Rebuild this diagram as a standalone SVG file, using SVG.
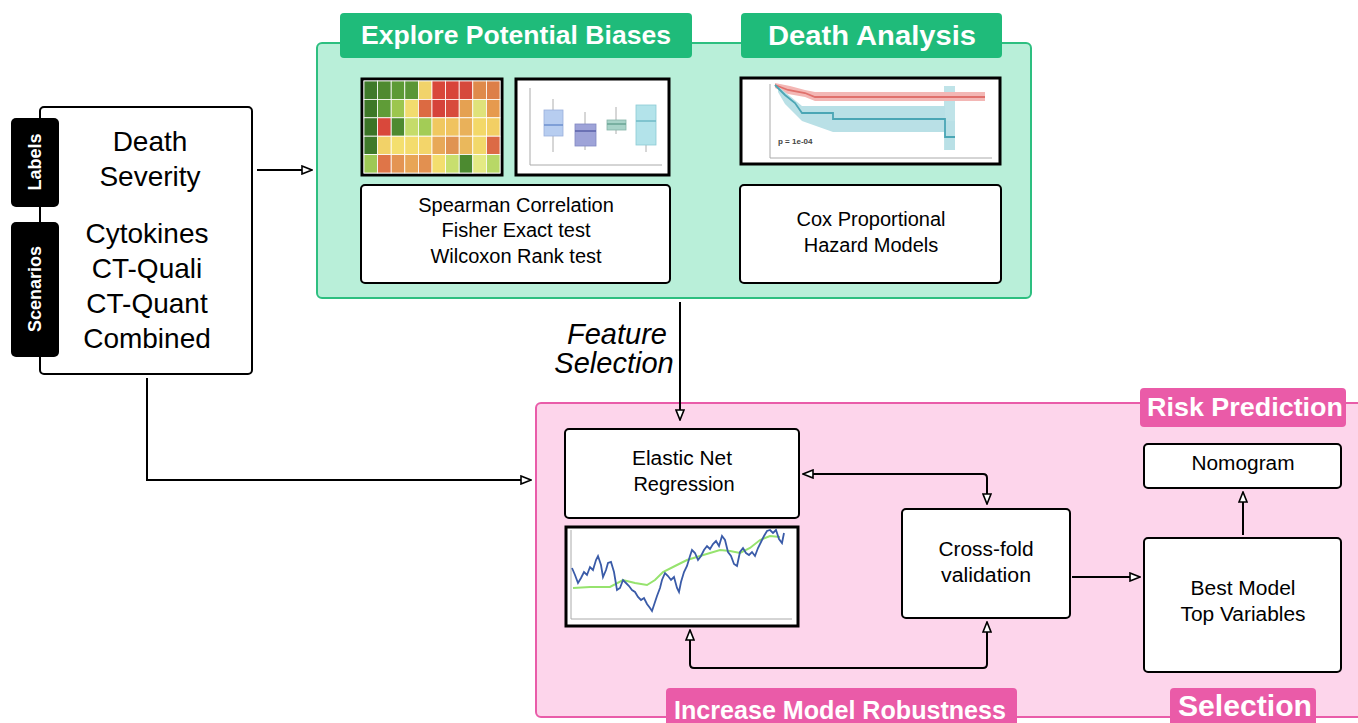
<svg xmlns="http://www.w3.org/2000/svg" width="1358" height="723" viewBox="0 0 1358 723">
<defs>
<style>
.node{fill:#fff;stroke:#000;stroke-width:2}
.txt{font-family:"Liberation Sans",Arial,sans-serif;fill:#000;text-anchor:middle}
.hdr{font-family:"Liberation Sans Narrow","Liberation Sans",Arial,sans-serif;font-weight:bold;fill:#fff;text-anchor:middle}
.tab{font-family:"Liberation Sans",Arial,sans-serif;font-weight:bold;fill:#fff;text-anchor:middle;font-size:18px}
.con{fill:none;stroke:#000;stroke-width:2}
.img{fill:#fff;stroke:#000;stroke-width:3}
.ax{stroke:#aaa;stroke-width:1;fill:none}
</style>
<marker id="ah" viewBox="0 0 12 10" refX="11" refY="5" markerWidth="12" markerHeight="10" markerUnits="userSpaceOnUse" orient="auto-start-reverse">
<path d="M1,1 L11,5 L1,9 Z" fill="#fff" stroke="#000" stroke-width="1.6"/>
</marker>
</defs>
<rect width="1358" height="723" fill="#fff"/>

<!-- Green container -->
<g id="explore-container">
<rect x="317" y="43" width="714" height="255" rx="5" fill="#b9efd9" stroke="#2dbf80" stroke-width="2"/>
<rect x="340" y="13" width="352" height="45" rx="4" fill="#1fbb7a"/>
<text class="hdr" x="516" y="44" font-size="26" textLength="310" lengthAdjust="spacingAndGlyphs">Explore Potential Biases</text>
<rect x="741" y="13" width="261" height="45" rx="4" fill="#1fbb7a"/>
<text class="hdr" x="872" y="45" font-size="28" textLength="208" lengthAdjust="spacingAndGlyphs">Death Analysis</text>
</g>

<!-- Pink container -->
<g id="risk-container">
<rect x="536" y="403" width="830" height="314" rx="5" fill="#fdd5eb" stroke="#e95ca9" stroke-width="2"/>
<rect x="1140" y="388" width="206" height="39" rx="4" fill="#ea5ba8"/>
<text class="hdr" x="1245" y="416" font-size="26" textLength="196" lengthAdjust="spacingAndGlyphs">Risk Prediction</text>
<rect x="666" y="688" width="351" height="40" rx="4" fill="#ea5ba8"/>
<text class="hdr" x="840" y="719" font-size="25" textLength="332" lengthAdjust="spacingAndGlyphs">Increase Model Robustness</text>
<rect x="1170" y="688" width="146" height="40" rx="4" fill="#ea5ba8"/>
<text class="hdr" x="1245" y="716" font-size="30" textLength="134" lengthAdjust="spacingAndGlyphs">Selection</text>
</g>

<!-- Left input node -->
<g id="inputs">
<rect x="40" y="107" width="212" height="267" rx="4" class="node"/>
<rect x="11" y="118" width="48" height="89" rx="5" fill="#000"/>
<text class="tab" transform="translate(41,162) rotate(-90)">Labels</text>
<rect x="11" y="222" width="48" height="135" rx="5" fill="#000"/>
<text class="tab" transform="translate(41,289) rotate(-90)">Scenarios</text>
<g class="txt" font-size="28">
<text x="150" y="151">Death</text>
<text x="150" y="186">Severity</text>
<text x="147" y="243">Cytokines</text>
<text x="147" y="278">CT-Quali</text>
<text x="147" y="313">CT-Quant</text>
<text x="147" y="348">Combined</text>
</g>
</g>

<!-- Heatmap image -->
<g id="heatmap">
<rect x="362" y="79" width="140" height="96" fill="#fff" stroke="#000" stroke-width="3"/>
<g stroke="#fff" stroke-width="0.8">
<rect x="364" y="81" width="13.6" height="18.4" fill="#3f7a2a"/><rect x="377.6" y="81" width="13.6" height="18.4" fill="#4f8a30"/><rect x="391.2" y="81" width="13.6" height="18.4" fill="#5c9a35"/><rect x="404.8" y="81" width="13.6" height="18.4" fill="#5a9636"/><rect x="418.4" y="81" width="13.6" height="18.4" fill="#f1d36a"/><rect x="432" y="81" width="13.6" height="18.4" fill="#d9473a"/><rect x="445.6" y="81" width="13.6" height="18.4" fill="#d8443a"/><rect x="459.2" y="81" width="13.6" height="18.4" fill="#d6493c"/><rect x="472.8" y="81" width="13.6" height="18.4" fill="#df8a4b"/><rect x="486.4" y="81" width="13.6" height="18.4" fill="#dd7f48"/>
<rect x="364" y="99.4" width="13.6" height="18.4" fill="#3e7828"/><rect x="377.6" y="99.4" width="13.6" height="18.4" fill="#5f9c37"/><rect x="391.2" y="99.4" width="13.6" height="18.4" fill="#9cc64e"/><rect x="404.8" y="99.4" width="13.6" height="18.4" fill="#f2dc6e"/><rect x="418.4" y="99.4" width="13.6" height="18.4" fill="#dc6a42"/><rect x="432" y="99.4" width="13.6" height="18.4" fill="#d6433a"/><rect x="445.6" y="99.4" width="13.6" height="18.4" fill="#d84b3c"/><rect x="459.2" y="99.4" width="13.6" height="18.4" fill="#e5a152"/><rect x="472.8" y="99.4" width="13.6" height="18.4" fill="#dfe27a"/><rect x="486.4" y="99.4" width="13.6" height="18.4" fill="#e69a4e"/>
<rect x="364" y="117.8" width="13.6" height="18.4" fill="#3b7427"/><rect x="377.6" y="117.8" width="13.6" height="18.4" fill="#d9483b"/><rect x="391.2" y="117.8" width="13.6" height="18.4" fill="#4e8a30"/><rect x="404.8" y="117.8" width="13.6" height="18.4" fill="#c5dc6a"/><rect x="418.4" y="117.8" width="13.6" height="18.4" fill="#a3cc56"/><rect x="432" y="117.8" width="13.6" height="18.4" fill="#f0c860"/><rect x="445.6" y="117.8" width="13.6" height="18.4" fill="#f0c35f"/><rect x="459.2" y="117.8" width="13.6" height="18.4" fill="#e9b15a"/><rect x="472.8" y="117.8" width="13.6" height="18.4" fill="#f3d868"/><rect x="486.4" y="117.8" width="13.6" height="18.4" fill="#f2cf64"/>
<rect x="364" y="136.2" width="13.6" height="18.4" fill="#3f7a2a"/><rect x="377.6" y="136.2" width="13.6" height="18.4" fill="#f2d268"/><rect x="391.2" y="136.2" width="13.6" height="18.4" fill="#f4df6e"/><rect x="404.8" y="136.2" width="13.6" height="18.4" fill="#f4dc6c"/><rect x="418.4" y="136.2" width="13.6" height="18.4" fill="#f3d56a"/><rect x="432" y="136.2" width="13.6" height="18.4" fill="#e8a858"/><rect x="445.6" y="136.2" width="13.6" height="18.4" fill="#e09352"/><rect x="459.2" y="136.2" width="13.6" height="18.4" fill="#eab85c"/><rect x="472.8" y="136.2" width="13.6" height="18.4" fill="#f2d86a"/><rect x="486.4" y="136.2" width="13.6" height="18.4" fill="#dc6a45"/>
<rect x="364" y="154.6" width="13.6" height="18.4" fill="#9ec955"/><rect x="377.6" y="154.6" width="13.6" height="18.4" fill="#df7548"/><rect x="391.2" y="154.6" width="13.6" height="18.4" fill="#e49452"/><rect x="404.8" y="154.6" width="13.6" height="18.4" fill="#e8a556"/><rect x="418.4" y="154.6" width="13.6" height="18.4" fill="#e29050"/><rect x="432" y="154.6" width="13.6" height="18.4" fill="#f3de6e"/><rect x="445.6" y="154.6" width="13.6" height="18.4" fill="#c8df6e"/><rect x="459.2" y="154.6" width="13.6" height="18.4" fill="#4c8a30"/><rect x="472.8" y="154.6" width="13.6" height="18.4" fill="#e4ea84"/><rect x="486.4" y="154.6" width="13.6" height="18.4" fill="#b8d866"/>
</g>
</g>

<!-- Boxplot image -->
<g id="boxplot">
<rect x="516" y="79" width="153" height="96" class="img"/>
<path class="ax" d="M530,88 V165 H662"/>
<g stroke="#999" stroke-width="0.8">
<line x1="553" y1="99" x2="553" y2="110"/><line x1="553" y1="136" x2="553" y2="152"/>
<line x1="585" y1="112" x2="585" y2="124"/><line x1="585" y1="146" x2="585" y2="150"/>
<line x1="616" y1="107" x2="616" y2="120"/><line x1="616" y1="130" x2="616" y2="134"/>
<line x1="646" y1="107" x2="646" y2="105"/><line x1="646" y1="145" x2="646" y2="152"/>
</g>
<rect x="544" y="110" width="19" height="26" fill="#b7cdf0" stroke="#9ab0dc" stroke-width="0.8"/>
<line x1="544" y1="125" x2="563" y2="125" stroke="#6c8fcf" stroke-width="1.5"/>
<rect x="575" y="124" width="21" height="22" fill="#9ea3d8" stroke="#8087c2" stroke-width="0.8"/>
<line x1="575" y1="131" x2="596" y2="131" stroke="#5a60a8" stroke-width="1.5"/>
<rect x="607" y="120" width="19" height="10" fill="#a8d3c8" stroke="#86b5a8" stroke-width="0.8"/>
<line x1="607" y1="124" x2="626" y2="124" stroke="#6aa595" stroke-width="1.5"/>
<rect x="636" y="105" width="20" height="40" fill="#b3e3ea" stroke="#8ccad4" stroke-width="0.8"/>
<line x1="636" y1="121" x2="656" y2="121" stroke="#6fbac6" stroke-width="1.5"/>
</g>

<!-- KM plot image -->
<g id="km-plot">
<rect x="741" y="78" width="259" height="86" class="img"/>
<path class="ax" d="M770,84 V158 H992"/>
<rect x="944" y="86" width="11" height="64" fill="#bfe3e8"/>
<path d="M775,83 L790,86 L805,90 L815,92 L985,92 L985,101 L815,101 L805,97 L788,94 L775,88 Z" fill="#f3b7b5"/>
<path d="M778,86 L785,92 L802,106 L833,106 L945,106 L945,121 L955,121 L955,150 L945,150 L945,132 L833,132 L802,121 L785,104 L778,92 Z" fill="#b9e0e6"/>
<path d="M775,85 L788,90 L805,93 L815,97 L985,97" fill="none" stroke="#e0706c" stroke-width="1.8"/>
<path d="M775,85 L782,92 L785,95 L795,103 L802,113 L833,113 L833,119 L945,119 L945,137 L955,137" fill="none" stroke="#4ba6b5" stroke-width="1.8"/>
<text x="778" y="144" font-family="Liberation Sans,Arial,sans-serif" font-size="8" font-weight="bold" fill="#444">p = 1e-04</text>
</g>

<!-- Spearman node -->
<g id="stats-tests">
<rect x="361" y="185" width="309" height="98" rx="4" class="node"/>
<g class="txt" font-size="20">
<text x="516" y="212">Spearman Correlation</text>
<text x="516" y="237">Fisher Exact test</text>
<text x="516" y="263">Wilcoxon Rank test</text>
</g>
</g>

<!-- Cox node -->
<g id="cox">
<rect x="740" y="185" width="261" height="98" rx="4" class="node"/>
<g class="txt" font-size="20">
<text x="871" y="226">Cox Proportional</text>
<text x="871" y="252">Hazard Models</text>
</g>
</g>

<!-- Feature selection label -->
<g id="feature-selection-label" class="txt" font-size="29" font-style="italic">
<text x="617" y="344">Feature</text>
<text x="614" y="373">Selection</text>
</g>

<!-- Elastic net node -->
<g id="elastic-net">
<rect x="565" y="429" width="234" height="89" rx="4" class="node"/>
<g class="txt" font-size="20">
<text x="682" y="465" textLength="100" lengthAdjust="spacingAndGlyphs">Elastic Net</text>
<text x="684" y="491">Regression</text>
</g>
</g>

<!-- line chart image -->
<g id="line-chart">
<rect x="566" y="527" width="232" height="99" class="img"/>
<path class="ax" d="M571,530 V619 H792"/>
<path d="M573,588 L590,587 L610,587 L623,580 L635,583 L647,585 L655,580 L663,572 L675,566 L687,560 L700,556 L720,550 L730,551 L740,553 L750,548 L760,540 L770,536 L780,537" fill="none" stroke="#96e36e" stroke-width="2"/>
<path d="M572,568 L575,575 L578,583 L581,578 L584,572 L587,575 L590,567 L593,570 L596,560 L598,556 L601,565 L603,577 L606,570 L608,563 L611,562 L614,572 L617,590 L620,588 L623,580 L626,583 L629,586 L632,590 L635,592 L638,597 L641,600 L644,598 L647,604 L650,608 L652,611 L655,602 L657,596 L660,588 L662,580 L665,573 L668,576 L671,580 L674,577 L677,588 L679,592 L681,582 L684,572 L687,566 L690,556 L692,550 L695,553 L698,560 L701,556 L704,550 L707,546 L710,549 L713,544 L716,541 L719,546 L722,536 L725,540 L728,552 L731,556 L734,564 L737,566 L740,552 L743,548 L746,553 L749,555 L752,552 L755,556 L758,548 L761,542 L764,536 L767,531 L770,530 L773,533 L776,530 L779,539 L782,543 L784,533" fill="none" stroke="#3a5ba8" stroke-width="1.8"/>
</g>

<!-- Cross-fold node -->
<g id="cross-fold">
<rect x="902" y="509" width="168" height="109" rx="4" class="node"/>
<g class="txt" font-size="20">
<text x="986" y="556" textLength="95" lengthAdjust="spacingAndGlyphs">Cross-fold</text>
<text x="986" y="582" textLength="90" lengthAdjust="spacingAndGlyphs">validation</text>
</g>
</g>

<!-- Best model node -->
<g id="best-model">
<rect x="1144" y="538" width="197" height="134" rx="4" class="node"/>
<g class="txt" font-size="20">
<text x="1243" y="595" textLength="105" lengthAdjust="spacingAndGlyphs">Best Model</text>
<text x="1243" y="621" textLength="125" lengthAdjust="spacingAndGlyphs">Top Variables</text>
</g>
</g>

<!-- Nomogram node -->
<g id="nomogram">
<rect x="1144" y="444" width="197" height="44" rx="4" class="node"/>
<text class="txt" x="1243" y="470" font-size="20" textLength="103" lengthAdjust="spacingAndGlyphs">Nomogram</text>
</g>

<!-- Connectors -->
<g id="connectors">
<path class="con" d="M257,170 H312" marker-end="url(#ah)"/>
<path class="con" d="M680,302 V420" marker-end="url(#ah)"/>
<path class="con" d="M147,378 V480 H531" marker-end="url(#ah)"/>
<path class="con" d="M803,474 H983 Q987,474 987,478 V504" marker-start="url(#ah)" marker-end="url(#ah)"/>
<path class="con" d="M690,630 V664 Q690,668 694,668 H983 Q987,668 987,664 V622" marker-start="url(#ah)" marker-end="url(#ah)"/>
<path class="con" d="M1072,577 H1140" marker-end="url(#ah)"/>
<path class="con" d="M1243,535 V492" marker-end="url(#ah)"/>
</g>
</svg>
